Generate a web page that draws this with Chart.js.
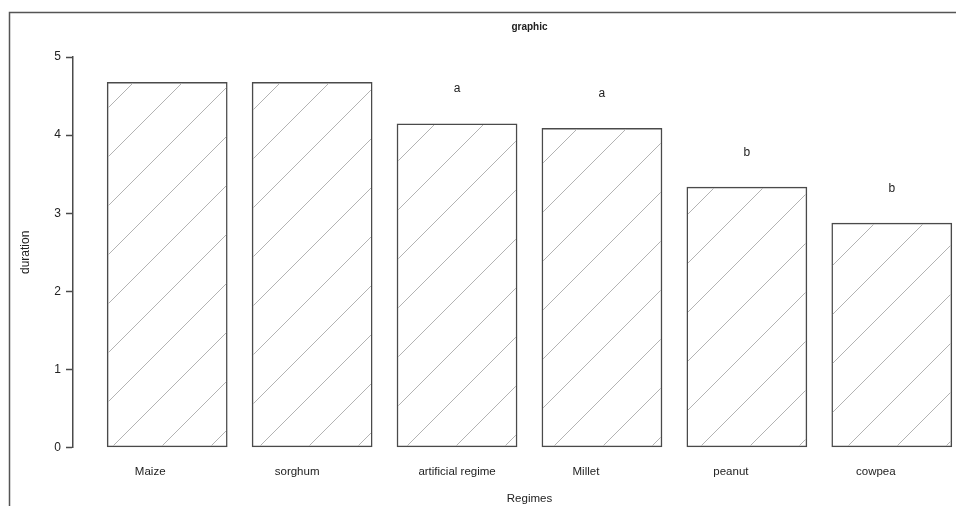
<!DOCTYPE html>
<html>
<head>
<meta charset="utf-8">
<script src="https://cdn.jsdelivr.net/npm/chart.js@4.4.1/dist/chart.umd.min.js"></script>
<style>
  html, body { margin: 0; padding: 0; background: #fff; overflow: hidden; }
  #wrap { width: 956px; height: 506px; overflow: hidden; }
  #grafica { display: block; }
</style>
</head>
<body>
<div id="wrap"><canvas id="grafica" width="986" height="506"></canvas></div>
<script>
const regimes = ['Maize', 'sorghum', 'artificial regime', 'Millet', 'peanut', 'cowpea'];
const duration = [4.68, 4.68, 4.15, 4.09, 3.34, 2.88];
const letters = ['', '', 'a', 'a', 'b', 'b'];
const letterY = [null, null, 4.60, 4.53, 3.78, 3.31];
const yTicks = [0, 1, 2, 3, 4, 5];

// barplot a la R: ancho 1, espacio 0.2
const mid = i => 0.2 + i * 1.2 + 0.5;
// las etiquetas del original no quedan centradas en las barras
const labelNudge = [-17, -15, 0, -16, -16, -16];

const ink = '#222';
const edge = '#4a4a4a';
const familia = '"Liberation Sans", Arial, sans-serif';
Chart.defaults.font.family = familia;
Chart.defaults.color = ink;

const canvas = document.getElementById('grafica');
const ctx = canvas.getContext('2d');

function rayado() {
  const p = 49, k = 20;
  const c = document.createElement('canvas');
  c.width = p; c.height = p;
  const g = c.getContext('2d');
  g.strokeStyle = '#b3b3b3';
  g.lineWidth = 1;
  g.beginPath();
  g.moveTo(-2, k + 2); g.lineTo(k + 2, -2);
  g.moveTo(k - 2, p + 2); g.lineTo(p + 2, k - 2);
  g.stroke();
  return ctx.createPattern(c, 'repeat');
}

const extras = {
  id: 'extras',
  beforeDraw(chart) {
    const c = chart.ctx;
    c.save();
    c.strokeStyle = '#555';
    c.lineWidth = 1.5;
    c.beginPath();
    c.moveTo(9.5, chart.height);
    c.lineTo(9.5, 12.5);
    c.lineTo(chart.width, 12.5);
    c.stroke();
    c.restore();
  },
  afterDraw(chart) {
    const c = chart.ctx;
    const { x, y } = chart.scales;
    const area = chart.chartArea;
    c.save();
    c.fillStyle = ink;
    c.textAlign = 'center';
    // titulo centrado sobre la zona del grafico, como en R
    c.font = 'bold 10px ' + familia;
    c.textBaseline = 'middle';
    c.fillText('graphic', (area.left + area.right) / 2, 27);
    c.font = '11.5px ' + familia;
    c.textBaseline = 'alphabetic';
    regimes.forEach((r, i) => {
      c.fillText(r, x.getPixelForValue(mid(i)) + labelNudge[i], y.bottom + 27);
    });
    c.font = '12px ' + familia;
    c.textBaseline = 'middle';
    letters.forEach((l, i) => {
      if (l) c.fillText(l, x.getPixelForValue(mid(i)), y.getPixelForValue(letterY[i]));
    });
    c.restore();
  }
};

new Chart(ctx, {
  type: 'bar',
  data: {
    datasets: [{
      data: regimes.map((r, i) => ({ x: mid(i), y: duration[i] })),
      backgroundColor: rayado(),
      borderColor: edge,
      borderWidth: 1.5,
      borderSkipped: false,
      barPercentage: 1 / 1.2,
      categoryPercentage: 1
    }]
  },
  options: {
    responsive: false,
    animation: false,
    layout: { padding: { left: 0, right: 0, top: 57, bottom: 0 } },
    plugins: {
      legend: { display: false },
      tooltip: { enabled: false },
      title: { display: false }
    },
    scales: {
      x: {
        type: 'linear',
        offset: false,
        min: -0.08,
        max: 7.48,
        afterBuildTicks: s => { s.ticks = regimes.map((r, i) => ({ value: mid(i) })); },
        ticks: { display: false },
        grid: { display: false, offset: false },
        border: { display: false },
        title: { display: true, text: 'Regimes', color: ink, font: { size: 11.5 }, padding: 0 },
        afterFit: s => { s.height = 58.3; }
      },
      y: {
        min: 0,
        max: 5,
        afterBuildTicks: s => { s.ticks = yTicks.map(v => ({ value: v })); },
        ticks: { color: ink, font: { size: 12 }, padding: 5 },
        grid: { drawOnChartArea: false, tickLength: 7, tickColor: edge, tickWidth: 1.5 },
        border: { display: true, color: edge, width: 1.5 },
        title: { display: true, text: 'duration', color: ink, font: { size: 12 }, padding: { top: 18, bottom: 0 } },
        afterFit: s => { s.width = 73; }
      }
    }
  },
  plugins: [extras]
});
</script>
</body>
</html>
